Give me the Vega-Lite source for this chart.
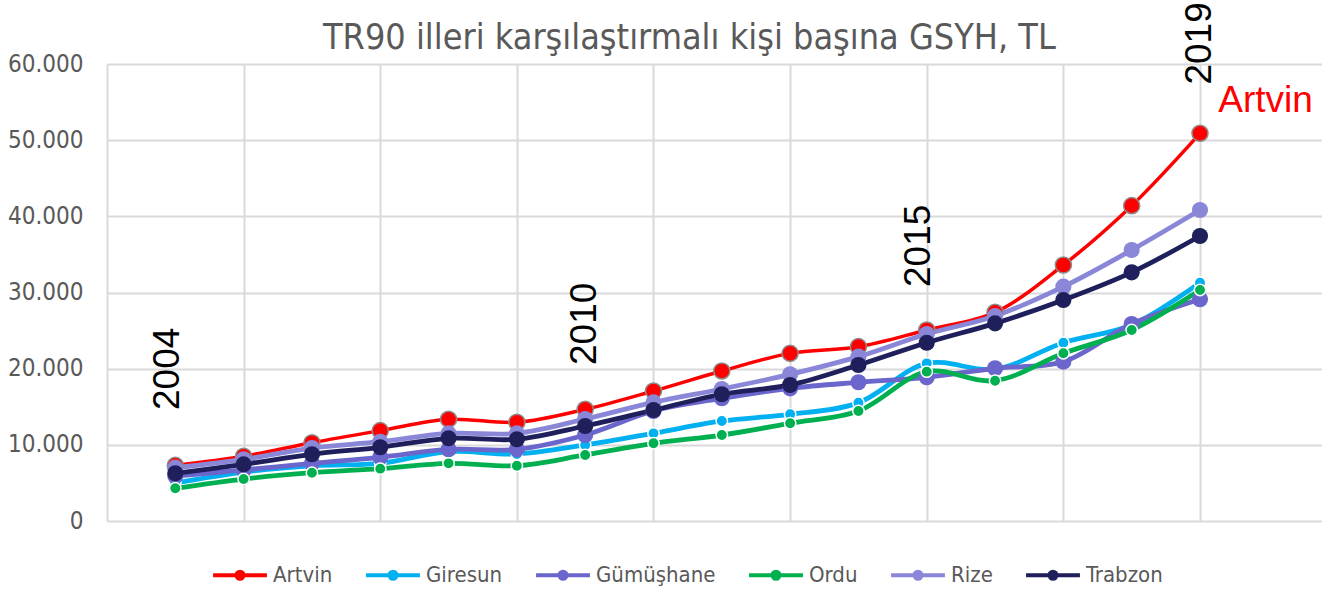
{
  "$schema": "https://vega.github.io/schema/vega-lite/v6.json",
  "width": 1215,
  "height": 457,
  "autosize": {"type": "none"},
  "padding": {"left": 107, "top": 64, "right": 0, "bottom": 69},
  "background": "white",
  "title": {
    "text": "TR90 illeri karşılaştırmalı kişi başına GSYH, TL",
    "anchor": "start",
    "frame": "group",
    "dx": 216,
    "dy": 96,
    "offset": 14,
    "baseline": "alphabetic",
    "font": "DejaVu Sans Condensed",
    "fontSize": 35.7,
    "fontWeight": "normal",
    "color": "#595959"
  },
  "config": {
    "view": {"stroke": null},
    "locale": {"number": {"decimal": ",", "thousands": ".", "grouping": [3], "currency": ["", " TL"]}},
    "legend": {
      "labelFont": "DejaVu Sans Condensed",
      "labelFontSize": 22,
      "labelColor": "#595959",
      "labelOffset": 4,
      "columnPadding": 25,
      "symbolType": "M-1,0L1,0M-0.13,0A0.13,0.13,0,1,1,0.13,0A0.13,0.13,0,1,1,-0.13,0Z",
      "symbolSize": 2900,
      "symbolStrokeWidth": 4
    }
  },
  "datasets": {
    "seriler": [
      {"il": "Artvin", "yil": 2004, "gsyh": 7300},
      {"il": "Artvin", "yil": 2005, "gsyh": 8500},
      {"il": "Artvin", "yil": 2006, "gsyh": 10280},
      {"il": "Artvin", "yil": 2007, "gsyh": 11860},
      {"il": "Artvin", "yil": 2008, "gsyh": 13350},
      {"il": "Artvin", "yil": 2009, "gsyh": 12960},
      {"il": "Artvin", "yil": 2010, "gsyh": 14660},
      {"il": "Artvin", "yil": 2011, "gsyh": 17070},
      {"il": "Artvin", "yil": 2012, "gsyh": 19700},
      {"il": "Artvin", "yil": 2013, "gsyh": 22010},
      {"il": "Artvin", "yil": 2014, "gsyh": 22890},
      {"il": "Artvin", "yil": 2015, "gsyh": 25080},
      {"il": "Artvin", "yil": 2016, "gsyh": 27400},
      {"il": "Artvin", "yil": 2017, "gsyh": 33610},
      {"il": "Artvin", "yil": 2018, "gsyh": 41400},
      {"il": "Artvin", "yil": 2019, "gsyh": 50900},
      {"il": "Giresun", "yil": 2004, "gsyh": 4990},
      {"il": "Giresun", "yil": 2005, "gsyh": 6430},
      {"il": "Giresun", "yil": 2006, "gsyh": 7250},
      {"il": "Giresun", "yil": 2007, "gsyh": 7570},
      {"il": "Giresun", "yil": 2008, "gsyh": 9100},
      {"il": "Giresun", "yil": 2009, "gsyh": 8800},
      {"il": "Giresun", "yil": 2010, "gsyh": 9980},
      {"il": "Giresun", "yil": 2011, "gsyh": 11510},
      {"il": "Giresun", "yil": 2012, "gsyh": 13130},
      {"il": "Giresun", "yil": 2013, "gsyh": 14010},
      {"il": "Giresun", "yil": 2014, "gsyh": 15530},
      {"il": "Giresun", "yil": 2015, "gsyh": 20700},
      {"il": "Giresun", "yil": 2016, "gsyh": 19920},
      {"il": "Giresun", "yil": 2017, "gsyh": 23410},
      {"il": "Giresun", "yil": 2018, "gsyh": 25730},
      {"il": "Giresun", "yil": 2019, "gsyh": 31290},
      {"il": "Gümüşhane", "yil": 2004, "gsyh": 5900},
      {"il": "Gümüşhane", "yil": 2005, "gsyh": 6700},
      {"il": "Gümüşhane", "yil": 2006, "gsyh": 7570},
      {"il": "Gümüşhane", "yil": 2007, "gsyh": 8360},
      {"il": "Gümüşhane", "yil": 2008, "gsyh": 9400},
      {"il": "Gümüşhane", "yil": 2009, "gsyh": 9410},
      {"il": "Gümüşhane", "yil": 2010, "gsyh": 11290},
      {"il": "Gümüşhane", "yil": 2011, "gsyh": 14440},
      {"il": "Gümüşhane", "yil": 2012, "gsyh": 16110},
      {"il": "Gümüşhane", "yil": 2013, "gsyh": 17420},
      {"il": "Gümüşhane", "yil": 2014, "gsyh": 18210},
      {"il": "Gümüşhane", "yil": 2015, "gsyh": 18870},
      {"il": "Gümüşhane", "yil": 2016, "gsyh": 20050},
      {"il": "Gümüşhane", "yil": 2017, "gsyh": 20920},
      {"il": "Gümüşhane", "yil": 2018, "gsyh": 25870},
      {"il": "Gümüşhane", "yil": 2019, "gsyh": 29110},
      {"il": "Ordu", "yil": 2004, "gsyh": 4290},
      {"il": "Ordu", "yil": 2005, "gsyh": 5510},
      {"il": "Ordu", "yil": 2006, "gsyh": 6340},
      {"il": "Ordu", "yil": 2007, "gsyh": 6870},
      {"il": "Ordu", "yil": 2008, "gsyh": 7570},
      {"il": "Ordu", "yil": 2009, "gsyh": 7260},
      {"il": "Ordu", "yil": 2010, "gsyh": 8670},
      {"il": "Ordu", "yil": 2011, "gsyh": 10200},
      {"il": "Ordu", "yil": 2012, "gsyh": 11290},
      {"il": "Ordu", "yil": 2013, "gsyh": 12830},
      {"il": "Ordu", "yil": 2014, "gsyh": 14440},
      {"il": "Ordu", "yil": 2015, "gsyh": 19610},
      {"il": "Ordu", "yil": 2016, "gsyh": 18420},
      {"il": "Ordu", "yil": 2017, "gsyh": 22020},
      {"il": "Ordu", "yil": 2018, "gsyh": 25080},
      {"il": "Ordu", "yil": 2019, "gsyh": 30330},
      {"il": "Rize", "yil": 2004, "gsyh": 7000},
      {"il": "Rize", "yil": 2005, "gsyh": 8100},
      {"il": "Rize", "yil": 2006, "gsyh": 9580},
      {"il": "Rize", "yil": 2007, "gsyh": 10410},
      {"il": "Rize", "yil": 2008, "gsyh": 11510},
      {"il": "Rize", "yil": 2009, "gsyh": 11510},
      {"il": "Rize", "yil": 2010, "gsyh": 13390},
      {"il": "Rize", "yil": 2011, "gsyh": 15580},
      {"il": "Rize", "yil": 2012, "gsyh": 17330},
      {"il": "Rize", "yil": 2013, "gsyh": 19260},
      {"il": "Rize", "yil": 2014, "gsyh": 21580},
      {"il": "Rize", "yil": 2015, "gsyh": 24550},
      {"il": "Rize", "yil": 2016, "gsyh": 26920},
      {"il": "Rize", "yil": 2017, "gsyh": 30770},
      {"il": "Rize", "yil": 2018, "gsyh": 35580},
      {"il": "Rize", "yil": 2019, "gsyh": 40830},
      {"il": "Trabzon", "yil": 2004, "gsyh": 6260},
      {"il": "Trabzon", "yil": 2005, "gsyh": 7440},
      {"il": "Trabzon", "yil": 2006, "gsyh": 8760},
      {"il": "Trabzon", "yil": 2007, "gsyh": 9680},
      {"il": "Trabzon", "yil": 2008, "gsyh": 10860},
      {"il": "Trabzon", "yil": 2009, "gsyh": 10730},
      {"il": "Trabzon", "yil": 2010, "gsyh": 12470},
      {"il": "Trabzon", "yil": 2011, "gsyh": 14570},
      {"il": "Trabzon", "yil": 2012, "gsyh": 16640},
      {"il": "Trabzon", "yil": 2013, "gsyh": 17860},
      {"il": "Trabzon", "yil": 2014, "gsyh": 20480},
      {"il": "Trabzon", "yil": 2015, "gsyh": 23410},
      {"il": "Trabzon", "yil": 2016, "gsyh": 25950},
      {"il": "Trabzon", "yil": 2017, "gsyh": 29020},
      {"il": "Trabzon", "yil": 2018, "gsyh": 32650},
      {"il": "Trabzon", "yil": 2019, "gsyh": 37420}
    ],
    "yillar": [
      {"yil": 2003.9, "deger": 14570, "etiket": "2004"},
      {"yil": 2010.0, "deger": 20480, "etiket": "2010"},
      {"yil": 2014.88, "deger": 30720, "etiket": "2015"},
      {"yil": 2019.0, "deger": 57300, "etiket": "2019"}
    ],
    "isim": [
      {"yil": 2019.96, "deger": 53700, "etiket": "Artvin"}
    ]
  },
  "encoding": {
    "x": {
      "field": "yil",
      "type": "quantitative",
      "scale": {"domain": [2003, 2020.786], "nice": false, "zero": false},
      "axis": {
        "values": [2003, 2005, 2007, 2009, 2011, 2013, 2015, 2017, 2019],
        "labels": false,
        "ticks": false,
        "domain": false,
        "grid": true,
        "gridColor": "#D9D9D9",
        "gridWidth": 2,
        "title": null
      }
    },
    "y": {
      "field": "gsyh",
      "type": "quantitative",
      "scale": {"domain": [0, 60000], "nice": false},
      "axis": {
        "values": [0, 10000, 20000, 30000, 40000, 50000, 60000],
        "format": ",d",
        "domain": false,
        "ticks": false,
        "labelPadding": 24,
        "labelFont": "DejaVu Sans Condensed",
        "labelFontSize": 24,
        "labelColor": "#595959",
        "gridColor": "#D9D9D9",
        "gridWidth": 2,
        "title": null
      }
    }
  },
  "layer": [
    {
      "data": {"name": "seriler"},
      "encoding": {
        "color": {
          "field": "il",
          "type": "nominal",
          "scale": {
            "domain": ["Artvin", "Giresun", "Gümüşhane", "Ordu", "Rize", "Trabzon"],
            "range": ["#FF0000", "#00B0F0", "#6B66CC", "#00B050", "#8A87D8", "#1F1F5C"]
          },
          "legend": {
            "orient": "none",
            "legendX": 104,
            "legendY": 482,
            "direction": "horizontal",
            "title": null,
            "encode": {
              "symbols": {
                "update": {
                  "fill": {"scale": "color", "field": "value"},
                  "stroke": {"scale": "color", "field": "value"},
                  "strokeWidth": {"value": 4},
                  "size": {"value": 2900},
                  "shape": {"value": "M-1,0L1,0M-0.13,0A0.13,0.13,0,1,1,0.13,0A0.13,0.13,0,1,1,-0.13,0Z"},
                  "opacity": {"value": 1}
                }
              }
            }
          }
        }
      },
      "layer": [
        {
          "mark": {"type": "line", "interpolate": "catmull-rom"},
          "encoding": {
            "strokeWidth": {
              "condition": {"test": "datum.il === 'Artvin'", "value": 3.5},
              "value": 4.8
            }
          }
        },
        {
          "mark": {"type": "point", "filled": true, "opacity": 1, "strokeWidth": 1.5},
          "encoding": {
            "size": {
              "condition": {"test": "datum.il === 'Giresun' || datum.il === 'Ordu'", "value": 130},
              "value": 260
            },
            "stroke": {
              "condition": [
                {"test": "datum.il === 'Artvin'", "value": "#8C8C8C"},
                {"test": "datum.il === 'Giresun' || datum.il === 'Ordu'", "value": "#FFFFFF"}
              ],
              "value": null
            }
          }
        }
      ]
    },
    {
      "data": {"name": "yillar"},
      "mark": {
        "type": "text",
        "angle": 270,
        "align": "left",
        "baseline": "middle",
        "font": "Liberation Sans",
        "fontSize": 37,
        "color": "#000000"
      },
      "encoding": {
        "y": {"field": "deger", "type": "quantitative"},
        "text": {"field": "etiket", "type": "nominal"}
      }
    },
    {
      "data": {"name": "isim"},
      "mark": {
        "type": "text",
        "align": "center",
        "baseline": "alphabetic",
        "font": "Liberation Sans",
        "fontSize": 37,
        "color": "#FF0000"
      },
      "encoding": {
        "y": {"field": "deger", "type": "quantitative"},
        "text": {"field": "etiket", "type": "nominal"}
      }
    }
  ]
}
